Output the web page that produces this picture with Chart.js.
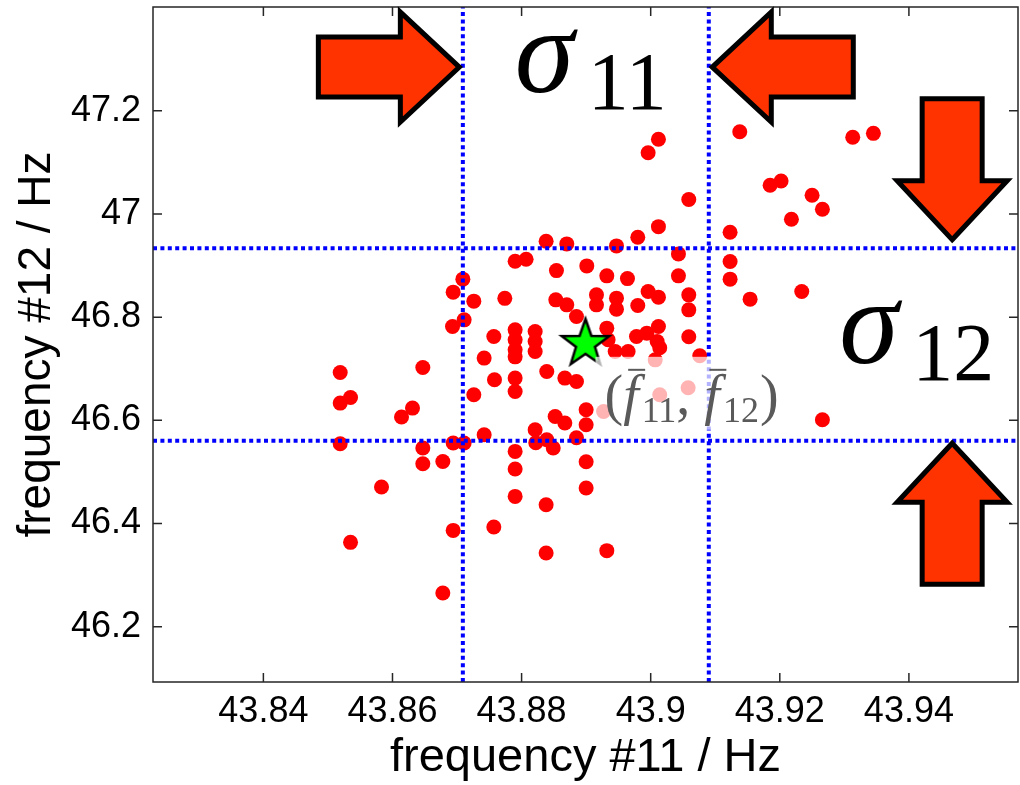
<!DOCTYPE html>
<html>
<head>
<meta charset="utf-8">
<script src="https://cdn.jsdelivr.net/npm/chart.js@4.4.0/dist/chart.umd.min.js"></script>
<style>
  html, body { margin: 0; padding: 0; background: #fff; }
  #wrap { width: 1020px; height: 785px; }
</style>
</head>
<body>
<div id="wrap"><canvas id="scatterChart" width="1020" height="785"></canvas></div>
<script>
// measured frequency pairs (Hz)
const freq11 = [
  43.9138, 43.9313, 43.9345, 43.9185, 43.9202, 43.9250, 43.9266, 43.9218, 43.9059, 43.9123,
  43.9123, 43.9123, 43.9154, 43.9234, 43.9043, 43.9043, 43.9059, 43.9059, 43.9059, 43.9076,
  43.9058, 43.9266, 43.9012, 43.8996, 43.9012, 43.8980, 43.8947, 43.8870, 43.8838, 43.8790,
  43.8807, 43.8854, 43.8901, 43.8932, 43.8964, 43.8774, 43.8853, 43.8870, 43.8916, 43.8916,
  43.8947, 43.8947, 43.8980, 43.8996, 43.9012, 43.8885, 43.8790, 43.8790, 43.8790, 43.8790,
  43.8790, 43.8790, 43.8821, 43.8821, 43.8821, 43.8839, 43.8867, 43.8885, 43.8932, 43.8934,
  43.8945, 43.8965, 43.8978, 43.8994, 43.9012, 43.9010, 43.9014, 43.8927, 43.9007, 43.8852,
  43.8867, 43.8900, 43.8900, 43.8821, 43.8839, 43.8790, 43.8849, 43.8885, 43.8900, 43.8822,
  43.8790, 43.8900, 43.8790, 43.8838, 43.8838, 43.8932, 43.8709, 43.8694, 43.8726, 43.8711,
  43.8693, 43.8757, 43.8742, 43.8758, 43.8726, 43.8519, 43.8535, 43.8519, 43.8647, 43.8631,
  43.8614, 43.8519, 43.8647, 43.8647, 43.8678, 43.8694, 43.8711, 43.8742, 43.8583, 43.8535,
  43.8694, 43.8757, 43.8678, 43.9014
];
const freq12 = [
  47.1593, 47.1485, 47.1562, 47.0556, 47.0639, 47.0362, 47.0091, 46.9897, 47.0281, 46.9646,
  46.9077, 46.8736, 46.8349, 46.8496, 46.9226, 46.8800, 46.8432, 46.8141, 46.7619, 46.7251,
  46.6631, 46.6012, 47.1446, 47.1187, 46.9754, 46.9549, 46.9381, 46.9419, 46.9471, 46.9084,
  46.9123, 46.8902, 46.8993, 46.8800, 46.8747, 46.8364, 46.8335, 46.8238, 46.8432, 46.8238,
  46.8368, 46.8155, 46.8225, 46.8496, 46.8387, 46.8012, 46.7754, 46.7561, 46.7367, 46.7231,
  46.6819, 46.6560, 46.7721, 46.7528, 46.7334, 46.6947, 46.6819, 46.6753, 46.7787, 46.7561,
  46.7334, 46.7334, 46.7624, 46.7690, 46.7818, 46.7528, 46.7406, 46.6172, 46.7173, 46.6076,
  46.5948, 46.6205, 46.5915, 46.5818, 46.5624, 46.5398, 46.5464, 46.5663, 46.5199, 46.5566,
  46.5057, 46.4689, 46.4527, 46.4366, 46.3431, 46.3475, 46.8736, 46.8484, 46.8310, 46.7948,
  46.7818, 46.7624, 46.7206, 46.6786, 46.6496, 46.6927, 46.6443, 46.6335, 46.7024, 46.6238,
  46.6064, 46.5547, 46.5464, 46.5160, 46.5204, 46.5561, 46.5561, 46.5721, 46.4709, 46.3636,
  46.3868, 46.3934, 46.2656, 46.6496
];

const meanF11 = 43.8899;
const meanF12 = 46.7522;
const sigma11Bounds = [43.8709, 43.9090];
const sigma12Bounds = [46.5605, 46.9336];

const xRange = [43.8229, 43.9569];
const yRange = [46.093, 47.401];
const xTicks = [43.84, 43.86, 43.88, 43.9, 43.92, 43.94];
const yTicks = [46.2, 46.4, 46.6, 46.8, 47, 47.2];

// where the big arrows sit
const arrowRowF12 = 47.2846;
const arrowColF11 = 43.9467;

function makeStar(R, r) {
  const c = document.createElement('canvas');
  const s = Math.ceil(2 * R + 8);
  c.width = s; c.height = s;
  const g = c.getContext('2d');
  g.translate(s / 2, s / 2 + 2);
  g.beginPath();
  for (let i = 0; i < 10; i++) {
    const rad = i % 2 ? r : R;
    const a = -Math.PI / 2 + i * Math.PI / 5;
    g.lineTo(rad * Math.cos(a), rad * Math.sin(a));
  }
  g.closePath();
  g.fillStyle = '#00ff00';
  g.fill();
  g.lineWidth = 2.5;
  g.strokeStyle = '#000';
  g.stroke();
  return c;
}

const fmt = v => String(Number(v.toFixed(2)));

// keep chart.js from adding label overflow padding around the plot
const noPad = s => { s.paddingTop = 0; s.paddingBottom = 0; s.paddingLeft = 0; s.paddingRight = 0; };

const overlay = {
  id: 'overlay',
  afterDatasetsDraw(chart) {
    const { ctx, chartArea: a, scales: { x, y } } = chart;
    const sx = x.getPixelForValue(meanF11);
    const sy = y.getPixelForValue(meanF12);
    ctx.save();

    // faded box behind mean label
    ctx.fillStyle = 'rgba(255,255,255,0.7)';
    ctx.fillRect(sx + 10, sy + 15, 192, 73);

    // box + inward ticks
    ctx.strokeStyle = '#262626';
    ctx.lineWidth = 1.5;
    ctx.strokeRect(a.left, a.top, a.right - a.left, a.bottom - a.top);
    ctx.beginPath();
    xTicks.forEach(v => {
      const px = x.getPixelForValue(v);
      ctx.moveTo(px, a.bottom); ctx.lineTo(px, a.bottom - 9);
      ctx.moveTo(px, a.top); ctx.lineTo(px, a.top + 9);
    });
    yTicks.forEach(v => {
      const py = y.getPixelForValue(v);
      ctx.moveTo(a.left, py); ctx.lineTo(a.left + 9, py);
      ctx.moveTo(a.right, py); ctx.lineTo(a.right - 9, py);
    });
    ctx.stroke();

    // mean label (f11, f12)
    ctx.fillStyle = '#5a5a5a';
    ctx.strokeStyle = '#5a5a5a';
    ctx.textBaseline = 'alphabetic';
    ctx.textAlign = 'left';
    let cx = sx + 19;
    const base = sy + 72;
    const piece = (txt, font, dy) => {
      ctx.font = font;
      ctx.fillText(txt, cx, base + (dy || 0));
      cx += ctx.measureText(txt).width;
    };
    const fbar = () => {
      const f0 = cx;
      piece('f', 'italic 56px "Liberation Serif"');
      ctx.lineWidth = 2;
      ctx.beginPath();
      ctx.moveTo(f0 + 5, base - 44);
      ctx.lineTo(f0 + 22, base - 44);
      ctx.stroke();
      cx += 3;
    };
    piece('(', '56px "Liberation Serif"');
    fbar();
    piece('11', '36px "Liberation Serif"', 8);
    piece(', ', '56px "Liberation Serif"');
    fbar();
    piece('12', '36px "Liberation Serif"', 8);
    cx += 1;
    piece(')', '56px "Liberation Serif"');

    // sigma labels
    ctx.fillStyle = '#000';
    const sigma = (left, baseline, sub) => {
      ctx.font = 'italic 120px "Liberation Serif"';
      ctx.fillText('σ', left, baseline);
      ctx.font = '82px "Liberation Serif"';
      ctx.fillText(sub, left + 73, baseline + 17);
    };
    const midX = (x.getPixelForValue(sigma11Bounds[0]) + x.getPixelForValue(sigma11Bounds[1])) / 2;
    sigma(midX - 71, y.getPixelForValue(arrowRowF12) + 25, '11');
    const midY = (y.getPixelForValue(sigma12Bounds[0]) + y.getPixelForValue(sigma12Bounds[1])) / 2;
    sigma(x.getPixelForValue(arrowColF11) - 113, midY + 18.5, '12');

    // arrows
    const arrow = (tx, ty, ang) => {
      ctx.save();
      ctx.translate(tx, ty);
      ctx.rotate(ang);
      ctx.beginPath();
      ctx.moveTo(0, 0);
      ctx.lineTo(-59, -55); ctx.lineTo(-59, -30); ctx.lineTo(-141, -30);
      ctx.lineTo(-141, 30); ctx.lineTo(-59, 30); ctx.lineTo(-59, 55);
      ctx.closePath();
      ctx.fillStyle = '#ff3300';
      ctx.fill();
      ctx.lineWidth = 5;
      ctx.lineJoin = 'miter';
      ctx.strokeStyle = '#000';
      ctx.stroke();
      ctx.restore();
    };
    const ay = y.getPixelForValue(arrowRowF12);
    const ax = x.getPixelForValue(arrowColF11);
    arrow(x.getPixelForValue(sigma11Bounds[0]) - 3.5, ay, 0);
    arrow(x.getPixelForValue(sigma11Bounds[1]) + 3.5, ay, Math.PI);
    arrow(ax, y.getPixelForValue(sigma12Bounds[1]) - 8.5, Math.PI / 2);
    arrow(ax, y.getPixelForValue(sigma12Bounds[0]) + 2.5, -Math.PI / 2);

    ctx.restore();
  }
};

const blueLine = pts => ({
  data: pts,
  showLine: true,
  borderColor: '#0000ff',
  borderWidth: 4,
  borderDash: [4, 3.4],
  pointRadius: 0,
  fill: false
});

const ctx = document.getElementById('scatterChart').getContext('2d');
new Chart(ctx, {
  type: 'scatter',
  data: {
    datasets: [
      {
        data: [{ x: meanF11, y: meanF12 }],
        pointStyle: makeStar(25, 10),
        pointRadius: 25
      },
      ...sigma11Bounds.map(v => blueLine([{ x: v, y: yRange[0] }, { x: v, y: yRange[1] }])),
      ...sigma12Bounds.map(v => blueLine([{ x: xRange[0], y: v }, { x: xRange[1], y: v }])),
      {
        data: freq11.map((f, i) => ({ x: f, y: freq12[i] })),
        pointRadius: 7.5,
        backgroundColor: '#ff0000',
        borderWidth: 0
      }
    ]
  },
  options: {
    responsive: false,
    animation: false,
    events: [],
    layout: { autoPadding: false, padding: { top: 7, right: 2, left: 0, bottom: 0 } },
    plugins: { legend: { display: false }, tooltip: { enabled: false } },
    scales: {
      x: {
        type: 'linear',
        min: xRange[0],
        max: xRange[1],
        afterBuildTicks: s => { s.ticks = xTicks.map(v => ({ value: v })); },
        afterFit: s => { s.height = 103; noPad(s); },
        grid: { display: false, drawTicks: false },
        border: { display: false },
        ticks: {
          color: '#000',
          font: { family: 'Liberation Sans', size: 36 },
          padding: 8,
          maxRotation: 0,
          autoSkip: false,
          callback: v => fmt(v)
        },
        title: {
          display: true,
          text: 'frequency #11 / Hz',
          color: '#000',
          font: { family: 'Liberation Sans', size: 47, lineHeight: 1 },
          padding: { top: 0, bottom: 3 }
        }
      },
      y: {
        type: 'linear',
        min: yRange[0],
        max: yRange[1],
        afterBuildTicks: s => { s.ticks = yTicks.map(v => ({ value: v })); },
        afterFit: s => { s.width = 153; noPad(s); },
        grid: { display: false, drawTicks: false },
        border: { display: false },
        ticks: {
          color: '#000',
          font: { family: 'Liberation Sans', size: 36 },
          padding: 12,
          autoSkip: false,
          callback: v => fmt(v)
        },
        title: {
          display: true,
          text: 'frequency #12 / Hz',
          color: '#000',
          font: { family: 'Liberation Sans', size: 46, lineHeight: 1 },
          padding: { top: 14, bottom: 0 }
        }
      }
    }
  },
  plugins: [overlay]
});
</script>
</body>
</html>
